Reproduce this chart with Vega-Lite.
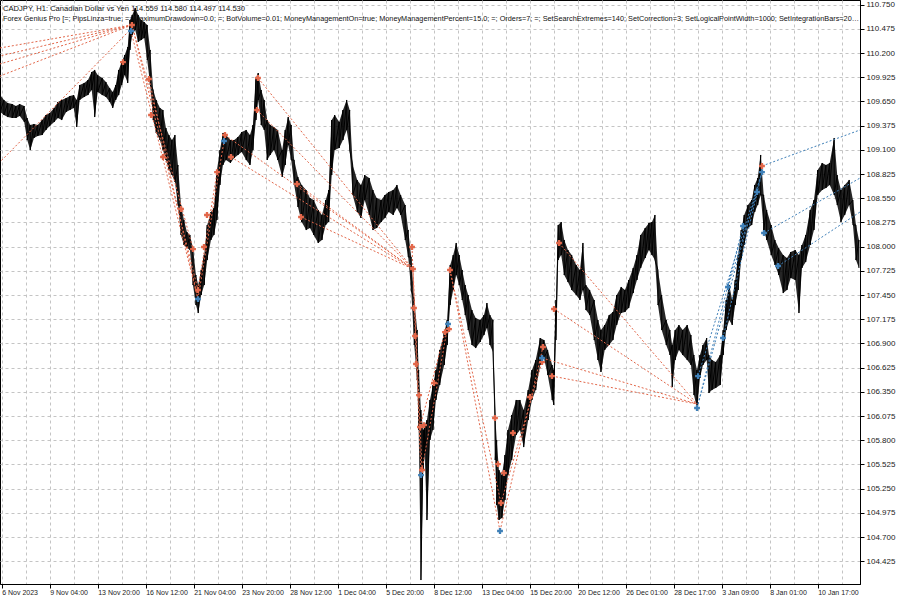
{
 "$schema": "https://vega.github.io/schema/vega-lite/v6.json",
 "width": 860, "height": 584,
 "autosize": {"type": "none"},
 "padding": {"left": 0, "top": 0, "right": 40, "bottom": 16},
 "background": "white",
 "config": {"view": {"stroke": "#000", "strokeWidth": 1}, "font": "Liberation Sans"},
 "title": {
  "text": "CADJPY, H1:  Canadian Dollar vs Yen  114.559 114.580 114.497 114.530",
  "subtitle": "Forex Genius Pro [=; PipsLinza=true; =; MaximumDrawdown=0.0; =; BotVolume=0.01; MoneyManagementOn=true; MoneyManagementPercent=15.0; =; Orders=7; =; SetSearchExtremes=140; SetCorrection=3; SetLogicalPointWidth=1000; SetIntegrationBars=200; SetBe",
  "anchor": "start", "frame": "group", "orient": "top", "offset": -22, "dx": 3,
  "font": "Liberation Sans", "fontSize": 7.6, "fontWeight": "normal", "color": "#111",
  "subtitleFont": "Liberation Sans", "subtitleFontSize": 7.3, "subtitleColor": "#111", "subtitlePadding": 2,
  "limit": 858
 },
 "datasets": {
  "bars": [
   {"b":-2,"hi":109.723,"lo":109.530},{"b":3,"hi":109.667,"lo":109.496},{"b":8,"hi":109.633,"lo":109.473},{"b":14,"hi":109.621,"lo":109.462},
   {"b":19,"hi":109.598,"lo":109.462},{"b":24,"hi":109.621,"lo":109.485},{"b":30,"hi":109.598,"lo":109.417},{"b":34,"hi":109.462,"lo":109.212},
   {"b":38,"hi":109.383,"lo":109.098},{"b":43,"hi":109.394,"lo":109.235},{"b":48,"hi":109.383,"lo":109.258},{"b":54,"hi":109.439,"lo":109.269},
   {"b":59,"hi":109.496,"lo":109.326},{"b":64,"hi":109.519,"lo":109.371},{"b":70,"hi":109.576,"lo":109.417},{"b":75,"hi":109.644,"lo":109.462},
   {"b":80,"hi":109.667,"lo":109.439},{"b":86,"hi":109.689,"lo":109.530},{"b":91,"hi":109.712,"lo":109.553},{"b":96,"hi":109.723,"lo":109.576},
   {"b":100,"hi":109.667,"lo":109.360},{"b":104,"hi":109.837,"lo":109.667},{"b":110,"hi":109.860,"lo":109.701},{"b":115,"hi":109.894,"lo":109.723},
   {"b":120,"hi":109.985,"lo":109.780},{"b":124,"hi":110.008,"lo":109.473},{"b":128,"hi":109.951,"lo":109.758},{"b":134,"hi":109.917,"lo":109.723},
   {"b":139,"hi":109.871,"lo":109.701},{"b":144,"hi":109.803,"lo":109.644},{"b":148,"hi":109.758,"lo":109.576},{"b":152,"hi":109.837,"lo":109.667},
   {"b":156,"hi":110.008,"lo":109.723},{"b":160,"hi":110.098,"lo":109.837},{"b":164,"hi":110.178,"lo":109.951},{"b":168,"hi":110.269,"lo":109.860},
   {"b":171,"hi":110.576,"lo":110.235},{"b":174,"hi":110.633,"lo":110.405},{"b":178,"hi":110.712,"lo":110.462},{"b":182,"hi":110.633,"lo":110.326},
   {"b":186,"hi":110.576,"lo":110.348},{"b":190,"hi":110.553,"lo":110.371},{"b":194,"hi":110.519,"lo":110.121},{"b":198,"hi":110.235,"lo":109.837},
   {"b":202,"hi":109.780,"lo":109.439},{"b":206,"hi":109.667,"lo":109.292},{"b":211,"hi":109.576,"lo":109.212},{"b":215,"hi":109.553,"lo":109.098},
   {"b":219,"hi":109.348,"lo":108.985},{"b":223,"hi":109.269,"lo":108.871},{"b":227,"hi":109.212,"lo":108.814},{"b":231,"hi":109.269,"lo":108.735},
   {"b":235,"hi":108.928,"lo":108.473},{"b":239,"hi":108.473,"lo":108.133},{"b":243,"hi":108.303,"lo":108.019},{"b":247,"hi":108.167,"lo":107.985},
   {"b":251,"hi":108.133,"lo":107.962},{"b":255,"hi":107.985,"lo":107.564},{"b":259,"hi":107.678,"lo":107.337},{"b":262,"hi":107.564,"lo":107.246},
   {"b":266,"hi":107.735,"lo":107.451},{"b":270,"hi":107.905,"lo":107.564},{"b":274,"hi":108.246,"lo":107.848},{"b":279,"hi":108.394,"lo":108.076},
   {"b":283,"hi":108.439,"lo":108.133},{"b":287,"hi":108.871,"lo":108.303},{"b":291,"hi":109.098,"lo":108.701},{"b":295,"hi":109.292,"lo":108.928},
   {"b":299,"hi":109.269,"lo":108.985},{"b":305,"hi":109.212,"lo":108.951},{"b":310,"hi":109.212,"lo":109.008},{"b":315,"hi":109.246,"lo":109.042},
   {"b":320,"hi":109.303,"lo":109.076},{"b":326,"hi":109.326,"lo":108.985},{"b":331,"hi":109.269,"lo":108.928},{"b":335,"hi":109.383,"lo":109.098},
   {"b":339,"hi":109.917,"lo":109.439},{"b":342,"hi":109.973,"lo":109.667},{"b":346,"hi":109.780,"lo":109.383},{"b":350,"hi":109.667,"lo":109.326},
   {"b":354,"hi":109.439,"lo":108.985},{"b":358,"hi":109.383,"lo":109.042},{"b":363,"hi":109.360,"lo":109.098},{"b":368,"hi":109.326,"lo":108.985},
   {"b":374,"hi":109.098,"lo":108.792},{"b":378,"hi":109.326,"lo":108.928},{"b":382,"hi":109.473,"lo":109.155},{"b":386,"hi":109.383,"lo":108.985},
   {"b":390,"hi":108.985,"lo":108.701},{"b":395,"hi":108.792,"lo":108.451},{"b":400,"hi":108.701,"lo":108.280},{"b":406,"hi":108.644,"lo":108.189},
   {"b":411,"hi":108.553,"lo":108.212},{"b":416,"hi":108.530,"lo":108.133},{"b":422,"hi":108.417,"lo":108.042},{"b":427,"hi":108.360,"lo":108.076},
   {"b":432,"hi":108.530,"lo":108.246},{"b":436,"hi":108.644,"lo":108.280},{"b":440,"hi":109.439,"lo":108.814},{"b":444,"hi":109.496,"lo":109.098},
   {"b":450,"hi":109.417,"lo":109.121},{"b":455,"hi":109.553,"lo":109.212},{"b":460,"hi":109.667,"lo":109.326},{"b":464,"hi":109.553,"lo":109.098},
   {"b":468,"hi":108.928,"lo":108.587},{"b":474,"hi":108.758,"lo":108.394},{"b":479,"hi":108.701,"lo":108.326},{"b":484,"hi":108.814,"lo":108.530},
   {"b":490,"hi":108.780,"lo":108.360},{"b":495,"hi":108.644,"lo":108.189},{"b":500,"hi":108.553,"lo":108.212},{"b":506,"hi":108.530,"lo":108.280},
   {"b":511,"hi":108.587,"lo":108.326},{"b":516,"hi":108.621,"lo":108.394},{"b":522,"hi":108.644,"lo":108.360},{"b":527,"hi":108.701,"lo":108.439},
   {"b":532,"hi":108.587,"lo":108.360},{"b":538,"hi":108.473,"lo":108.076},{"b":542,"hi":108.189,"lo":107.883},{"b":546,"hi":107.883,"lo":107.508},
   {"b":550,"hi":107.394,"lo":106.883},{"b":554,"hi":107.053,"lo":106.485},{"b":556,"hi":106.598,"lo":105.917},{"b":559,"hi":106.144,"lo":104.212},
   {"b":562,"hi":105.917,"lo":105.462},{"b":564,"hi":105.973,"lo":105.633},{"b":567,"hi":106.030,"lo":104.894},{"b":571,"hi":106.258,"lo":105.803},
   {"b":575,"hi":106.428,"lo":105.917},{"b":579,"hi":106.598,"lo":106.258},{"b":584,"hi":106.826,"lo":106.428},{"b":590,"hi":107.019,"lo":106.655},
   {"b":594,"hi":107.167,"lo":106.883},{"b":598,"hi":107.792,"lo":107.337},{"b":602,"hi":107.905,"lo":107.508},{"b":606,"hi":108.042,"lo":107.678},
   {"b":610,"hi":107.905,"lo":107.564},{"b":614,"hi":107.735,"lo":107.394},{"b":618,"hi":107.564,"lo":107.223},{"b":622,"hi":107.451,"lo":107.053},
   {"b":627,"hi":107.280,"lo":106.883},{"b":632,"hi":107.189,"lo":106.848},{"b":638,"hi":107.167,"lo":106.917},{"b":643,"hi":107.223,"lo":106.996},
   {"b":647,"hi":107.360,"lo":107.076},{"b":651,"hi":107.223,"lo":106.883},{"b":655,"hi":107.167,"lo":106.803},{"b":658,"hi":106.087,"lo":105.576},
   {"b":660,"hi":105.803,"lo":105.064},{"b":663,"hi":105.462,"lo":104.894},{"b":667,"hi":105.405,"lo":104.917},{"b":671,"hi":105.633,"lo":105.121},
   {"b":675,"hi":105.917,"lo":105.405},{"b":680,"hi":106.087,"lo":105.576},{"b":686,"hi":106.258,"lo":105.860},{"b":691,"hi":106.258,"lo":105.917},
   {"b":696,"hi":106.144,"lo":105.723},{"b":702,"hi":106.371,"lo":106.030},{"b":707,"hi":106.598,"lo":106.258},{"b":712,"hi":106.712,"lo":106.371},
   {"b":718,"hi":106.962,"lo":106.655},{"b":723,"hi":106.939,"lo":106.735},{"b":728,"hi":106.826,"lo":106.542},{"b":734,"hi":106.655,"lo":106.258},
   {"b":736,"hi":106.598,"lo":106.201},{"b":739,"hi":107.394,"lo":106.939},{"b":742,"hi":108.246,"lo":107.848},{"b":746,"hi":108.280,"lo":107.905},
   {"b":750,"hi":108.076,"lo":107.678},{"b":755,"hi":107.962,"lo":107.598},{"b":760,"hi":107.905,"lo":107.508},{"b":766,"hi":107.792,"lo":107.451},
   {"b":771,"hi":107.735,"lo":107.394},{"b":775,"hi":108.042,"lo":107.508},{"b":779,"hi":107.564,"lo":107.280},{"b":784,"hi":107.508,"lo":107.223},
   {"b":790,"hi":107.394,"lo":106.939},{"b":795,"hi":107.167,"lo":106.712},{"b":799,"hi":107.053,"lo":106.576},{"b":804,"hi":107.110,"lo":106.826},
   {"b":810,"hi":107.223,"lo":106.883},{"b":815,"hi":107.258,"lo":106.939},{"b":820,"hi":107.451,"lo":107.110},{"b":826,"hi":107.542,"lo":107.246},
   {"b":831,"hi":107.508,"lo":107.258},{"b":836,"hi":107.621,"lo":107.303},{"b":842,"hi":107.758,"lo":107.473},{"b":847,"hi":107.905,"lo":107.621},
   {"b":852,"hi":108.133,"lo":107.758},{"b":858,"hi":108.212,"lo":107.871},{"b":863,"hi":108.269,"lo":107.962},{"b":867,"hi":108.280,"lo":107.905},
   {"b":871,"hi":108.360,"lo":107.848},{"b":875,"hi":107.735,"lo":107.337},{"b":880,"hi":107.451,"lo":107.053},{"b":886,"hi":107.167,"lo":106.883},
   {"b":891,"hi":107.053,"lo":106.769},{"b":894,"hi":106.883,"lo":106.405},{"b":898,"hi":107.053,"lo":106.712},{"b":903,"hi":107.110,"lo":106.826},
   {"b":908,"hi":107.053,"lo":106.769},{"b":914,"hi":107.110,"lo":106.712},{"b":919,"hi":106.996,"lo":106.655},{"b":923,"hi":106.769,"lo":106.314},
   {"b":927,"hi":106.598,"lo":106.167},{"b":931,"hi":106.769,"lo":106.508},{"b":935,"hi":106.883,"lo":106.655},{"b":940,"hi":106.962,"lo":106.712},
   {"b":943,"hi":106.769,"lo":106.337},{"b":947,"hi":106.712,"lo":106.371},{"b":952,"hi":106.689,"lo":106.394},{"b":958,"hi":106.769,"lo":106.428},
   {"b":962,"hi":107.053,"lo":106.769},{"b":966,"hi":107.394,"lo":107.053},{"b":970,"hi":107.564,"lo":107.167},{"b":974,"hi":107.394,"lo":107.110},
   {"b":978,"hi":107.621,"lo":107.337},{"b":982,"hi":107.905,"lo":107.508},{"b":986,"hi":108.189,"lo":107.848},{"b":990,"hi":108.360,"lo":108.019},
   {"b":995,"hi":108.473,"lo":108.212},{"b":1000,"hi":108.530,"lo":108.246},{"b":1004,"hi":108.701,"lo":108.394},{"b":1008,"hi":108.780,"lo":108.473},
   {"b":1012,"hi":109.042,"lo":108.587},{"b":1016,"hi":108.587,"lo":108.189},{"b":1020,"hi":108.417,"lo":108.076},{"b":1026,"hi":108.246,"lo":107.905},
   {"b":1031,"hi":108.076,"lo":107.792},{"b":1036,"hi":107.985,"lo":107.678},{"b":1042,"hi":107.905,"lo":107.473},{"b":1047,"hi":107.871,"lo":107.508},
   {"b":1052,"hi":107.939,"lo":107.644},{"b":1058,"hi":107.962,"lo":107.621},{"b":1063,"hi":107.905,"lo":107.246},{"b":1067,"hi":108.019,"lo":107.758},
   {"b":1072,"hi":108.133,"lo":107.826},{"b":1078,"hi":108.417,"lo":108.019},{"b":1083,"hi":108.530,"lo":108.189},{"b":1088,"hi":108.871,"lo":108.587},
   {"b":1094,"hi":108.951,"lo":108.644},{"b":1099,"hi":108.928,"lo":108.667},{"b":1104,"hi":108.951,"lo":108.701},{"b":1110,"hi":109.235,"lo":108.587},
   {"b":1114,"hi":108.814,"lo":108.473},{"b":1119,"hi":108.644,"lo":108.280},{"b":1124,"hi":108.701,"lo":108.360},{"b":1130,"hi":108.758,"lo":108.473},
   {"b":1135,"hi":108.530,"lo":108.246},{"b":1139,"hi":108.246,"lo":107.848},{"b":1143,"hi":108.076,"lo":107.758}
  ],
  "sig": [
   {"b":173.7,"p":110.519,"side":"sell"},{"b":161.7,"p":110.098,"side":"sell"},{"b":196.4,"p":109.905,"side":"sell"},{"b":199.1,"p":109.496,"side":"sell"},
   {"b":215.1,"p":109.019,"side":"sell"},{"b":239.1,"p":108.428,"side":"sell"},{"b":255.1,"p":107.973,"side":"sell"},{"b":261.7,"p":107.508,"side":"sell"},
   {"b":269.7,"p":107.996,"side":"sell"},{"b":273.7,"p":108.360,"side":"sell"},{"b":287.1,"p":108.848,"side":"sell"},{"b":297.7,"p":109.269,"side":"sell"},
   {"b":305.7,"p":109.019,"side":"sell"},{"b":341.7,"p":109.917,"side":"sell"},{"b":340.4,"p":109.553,"side":"sell"},{"b":393.7,"p":108.712,"side":"sell"},
   {"b":399.1,"p":108.337,"side":"sell"},{"b":547.1,"p":107.996,"side":"sell"},{"b":548.4,"p":107.746,"side":"sell"},{"b":549.7,"p":107.303,"side":"sell"},
   {"b":551.1,"p":106.985,"side":"sell"},{"b":552.4,"p":106.667,"side":"sell"},{"b":556.4,"p":106.314,"side":"sell"},{"b":557.7,"p":105.951,"side":"sell"},
   {"b":563.1,"p":105.973,"side":"sell"},{"b":560.4,"p":105.462,"side":"sell"},{"b":576.4,"p":106.451,"side":"sell"},{"b":591.1,"p":107.030,"side":"sell"},
   {"b":596.4,"p":107.064,"side":"sell"},{"b":597.7,"p":107.735,"side":"sell"},{"b":657.7,"p":106.053,"side":"sell"},{"b":661.7,"p":105.530,"side":"sell"},
   {"b":669.7,"p":105.428,"side":"sell"},{"b":665.7,"p":105.087,"side":"sell"},{"b":681.7,"p":105.883,"side":"sell"},{"b":704.4,"p":106.292,"side":"sell"},
   {"b":721.7,"p":106.860,"side":"sell"},{"b":720.4,"p":106.689,"side":"sell"},{"b":733.7,"p":106.530,"side":"sell"},{"b":736.4,"p":107.292,"side":"sell"},
   {"b":743.1,"p":108.042,"side":"sell"},{"b":1013.7,"p":108.917,"side":"sell"},
   {"b":172.4,"p":110.451,"side":"buy"},{"b":261.7,"p":107.405,"side":"buy"},{"b":296.4,"p":109.201,"side":"buy"},{"b":559.1,"p":105.405,"side":"buy"},
   {"b":595.1,"p":107.121,"side":"buy"},{"b":664.4,"p":104.769,"side":"buy"},{"b":720.4,"p":106.735,"side":"buy"},{"b":927.1,"p":106.167,"side":"buy"},
   {"b":928.4,"p":106.530,"side":"buy"},{"b":961.7,"p":106.962,"side":"buy"},{"b":968.4,"p":107.542,"side":"buy"},{"b":988.4,"p":108.235,"side":"buy"},
   {"b":1007.1,"p":108.621,"side":"buy"},{"b":1013.7,"p":108.848,"side":"buy"},{"b":1016.4,"p":108.155,"side":"buy"},{"b":1035.1,"p":107.780,"side":"buy"}
  ],
  "seg": [
   {"b":173.7,"p":110.519,"b2":-2.3,"p2":110.258,"side":"sell"},{"b":173.7,"p":110.519,"b2":-2.3,"p2":110.167,"side":"sell"},
   {"b":173.7,"p":110.519,"b2":-2.3,"p2":110.076,"side":"sell"},{"b":173.7,"p":110.519,"b2":-2.3,"p2":109.939,"side":"sell"},
   {"b":173.7,"p":110.485,"b2":-2.3,"p2":108.962,"side":"sell"},{"b":173.7,"p":110.519,"b2":261.7,"p2":107.508,"side":"sell"},
   {"b":172.4,"p":110.451,"b2":261.7,"p2":107.405,"side":"sell"},{"b":173.7,"p":110.519,"b2":255.1,"p2":107.973,"side":"sell"},
   {"b":196.4,"p":109.905,"b2":261.7,"p2":107.405,"side":"sell"},{"b":261.7,"p":107.405,"b2":297.7,"p2":109.269,"side":"sell"},
   {"b":261.7,"p":107.508,"b2":287.1,"p2":108.848,"side":"sell"},{"b":297.7,"p":109.269,"b2":548.4,"p2":107.746,"side":"sell"},
   {"b":305.7,"p":109.019,"b2":548.4,"p2":107.746,"side":"sell"},{"b":341.7,"p":109.917,"b2":548.4,"p2":107.746,"side":"sell"},
   {"b":340.4,"p":109.553,"b2":548.4,"p2":107.746,"side":"sell"},{"b":393.7,"p":108.712,"b2":548.4,"p2":107.746,"side":"sell"},
   {"b":399.1,"p":108.337,"b2":548.4,"p2":107.746,"side":"sell"},{"b":547.1,"p":107.996,"b2":559.1,"p2":105.405,"side":"sell"},
   {"b":548.4,"p":107.746,"b2":560.4,"p2":105.462,"side":"sell"},{"b":559.1,"p":105.405,"b2":595.1,"p2":107.121,"side":"sell"},
   {"b":557.7,"p":105.951,"b2":591.1,"p2":107.030,"side":"sell"},{"b":597.7,"p":107.735,"b2":664.4,"p2":104.769,"side":"sell"},
   {"b":597.7,"p":107.735,"b2":665.7,"p2":105.087,"side":"sell"},{"b":664.4,"p":104.769,"b2":721.7,"p2":106.860,"side":"sell"},
   {"b":665.7,"p":105.087,"b2":720.4,"p2":106.689,"side":"sell"},{"b":743.1,"p":108.042,"b2":927.1,"p2":106.212,"side":"sell"},
   {"b":736.4,"p":107.292,"b2":927.1,"p2":106.212,"side":"sell"},{"b":720.4,"p":106.735,"b2":927.1,"p2":106.212,"side":"sell"},
   {"b":733.7,"p":106.530,"b2":927.1,"p2":106.212,"side":"sell"},
   {"b":927.1,"p":106.167,"b2":1013.7,"p2":108.848,"side":"buy"},{"b":928.4,"p":106.530,"b2":1013.7,"p2":108.848,"side":"buy"},
   {"b":927.1,"p":106.167,"b2":988.4,"p2":108.235,"side":"buy"},{"b":961.7,"p":106.962,"b2":1013.7,"p2":108.848,"side":"buy"},
   {"b":968.4,"p":107.542,"b2":1007.1,"p2":108.621,"side":"buy"},{"b":1013.7,"p":108.917,"b2":1144.4,"p2":109.326,"side":"buy"},
   {"b":1016.4,"p":108.155,"b2":1144.4,"p2":108.780,"side":"buy"},{"b":1035.1,"p":107.780,"b2":1144.4,"p2":108.394,"side":"buy"}
  ]
 },
 "layer": [
  {
   "data": {"name": "bars"},
   "mark": {"type": "area", "color": "#000", "opacity": 0.85, "interpolate": "linear"},
   "encoding": {
    "x": {"field": "b", "type": "quantitative", "scale": {"domain": [-2.27, 1144.4], "nice": false, "zero": false},
      "axis": {"orient": "bottom", "values": [0,32,64,96,128,160,192,224,256,288,320,352,384,416,448,480,512,544,576,608,640,672,704,736,768,800,832,864,896,928,960,992,1024,1056,1088,1120],
        "grid": true, "gridColor": "#c4c4c4", "gridDash": [3,3], "gridWidth": 1, "labels": false, "ticks": false, "domain": false, "title": null}},
    "y": {"field": "lo", "type": "quantitative", "scale": {"domain": [104.167, 110.803], "nice": false, "zero": false},
      "axis": {"orient": "right", "values": [104.425,104.7,104.975,105.25,105.525,105.8,106.075,106.35,106.625,106.9,107.175,107.45,107.725,108.0,108.275,108.55,108.825,109.1,109.375,109.65,109.925,110.2,110.475,110.75],
        "format": ".3f", "grid": true, "gridColor": "#c4c4c4", "gridDash": [3,3], "domain": true, "domainColor": "#000",
        "tickColor": "#000", "tickSize": 4, "labelFont": "Liberation Sans", "labelFontSize": 8, "labelColor": "#222", "labelPadding": 2, "labelAlign": "left", "title": null}},
    "y2": {"field": "hi"}
   }
  },
  {
   "data": {"name": "bars"},
   "transform": [{"fold": ["hi", "lo"], "as": ["k", "v"]}],
   "mark": {"type": "line", "color": "#000", "strokeWidth": 1, "interpolate": "linear"},
   "encoding": {
    "x": {"field": "b", "type": "quantitative", "scale": {"domain": [-2.27, 1144.4], "nice": false, "zero": false}, "axis": null},
    "y": {"field": "v", "type": "quantitative", "scale": {"domain": [104.167, 110.803], "nice": false, "zero": false}, "axis": null},
    "order": [{"field": "b", "type": "quantitative"}, {"field": "k", "type": "nominal"}]
   }
  },
  {
   "data": {"name": "seg"},
   "mark": {"type": "rule", "strokeDash": [2,2], "strokeWidth": 1, "clip": true},
   "encoding": {
    "x": {"field": "b", "type": "quantitative", "scale": {"domain": [-2.27, 1144.4], "nice": false, "zero": false},
      "axis": {"orient": "bottom", "values": [0,64,128,192,256,320,384,448,512,576,640,704,768,832,896,960,1024,1088],
        "labelExpr": "['6 Nov 2023','9 Nov 04:00','13 Nov 20:00','16 Nov 12:00','21 Nov 04:00','23 Nov 20:00','28 Nov 12:00','1 Dec 04:00','5 Dec 20:00','8 Dec 12:00','13 Dec 04:00','15 Dec 20:00','20 Dec 12:00','26 Dec 01:00','28 Dec 17:00','3 Jan 09:00','8 Jan 01:00','10 Jan 17:00'][round(datum.value/64)]",
        "grid": false, "domain": true, "domainColor": "#000", "tickColor": "#000", "tickSize": 4, "labelAlign": "left", "labelFont": "Liberation Sans", "labelFontSize": 7, "labelColor": "#222",
        "labelPadding": 0, "labelOverlap": false, "labelBound": false, "labelFlush": false, "title": null}},
    "y": {"field": "p", "type": "quantitative", "scale": {"domain": [104.167, 110.803], "nice": false, "zero": false}, "axis": null},
    "x2": {"field": "b2"},
    "y2": {"field": "p2"},
    "color": {"field": "side", "type": "nominal", "scale": {"domain": ["sell","buy"], "range": ["#e2674a","#3f80b8"]}, "legend": null}
   }
  },
  {
   "data": {"name": "sig"},
   "mark": {"type": "point", "shape": "cross", "filled": true, "size": 34, "opacity": 1},
   "encoding": {
    "x": {"field": "b", "type": "quantitative", "scale": {"domain": [-2.27, 1144.4], "nice": false, "zero": false}, "axis": null},
    "y": {"field": "p", "type": "quantitative", "scale": {"domain": [104.167, 110.803], "nice": false, "zero": false}, "axis": null},
    "color": {"field": "side", "type": "nominal", "scale": {"domain": ["sell","buy"], "range": ["#e8553a","#2b72b8"]}, "legend": null}
   }
  }
 ],
 "resolve": {"axis": {"x": "independent", "y": "independent"}}
}
